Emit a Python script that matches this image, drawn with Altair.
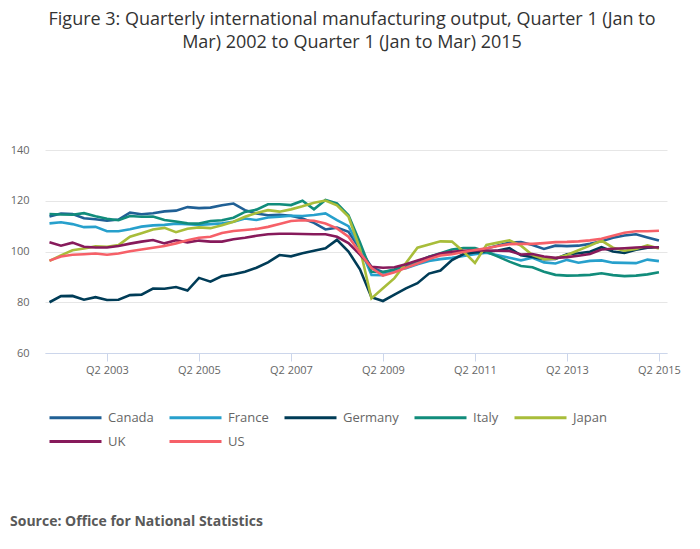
import altair as alt
import pandas as pd

countries = ["Canada", "France", "Germany", "Italy", "Japan", "UK", "US"]
colors = ["#206095", "#27a0cc", "#003c57", "#118c7b", "#a8bd3a", "#871a5b", "#f66068"]

# Quarter 1 2002 ... Quarter 2 2015 (54 quarters)
quarters = [f"Q{q} {y}" for y in range(2002, 2016) for q in range(1, 5)][:54]
tick_quarters = [5, 13, 21, 29, 37, 45, 53]  # Q2 2003 ... Q2 2015
y_ticks = [60, 80, 100, 120, 140]

canada = [113.8, 115.0, 114.8, 113.1, 112.7, 112.1, 112.6, 115.3, 114.7, 115.1,
          115.8, 116.1, 117.5, 117.1, 117.3, 118.2, 118.9, 116.3, 115.0, 114.3,
          114.5, 114.1, 113.0, 111.3, 108.7, 109.4, 107.8, 101.0, 93.8, 91.8,
          92.7, 94.0, 95.2, 97.8, 98.9, 99.3, 100.0, 100.4, 101.2, 102.4,
          103.5, 103.7, 102.6, 101.0, 102.3, 102.1, 102.3, 103.0, 104.0, 105.4,
          106.3, 106.8, 105.5, 104.3]
france = [111.1, 111.5, 110.8, 109.6, 109.7, 108.0, 108.0, 108.8, 109.8, 110.3,
          110.5, 111.0, 110.8, 110.5, 110.8, 111.1, 111.7, 113.0, 112.4, 113.4,
          113.7, 114.1, 114.0, 114.4, 115.0, 112.4, 110.0, 101.5, 90.8, 90.7,
          92.7, 93.4, 95.0, 96.3, 97.0, 97.5, 98.2, 98.9, 99.5, 98.5,
          97.5, 96.5, 97.5, 95.7, 95.3, 96.7, 95.6, 96.3, 96.5, 95.6,
          95.5, 95.4, 96.8, 96.2]
germany = [80.0, 82.4, 82.5, 81.0, 82.0, 80.9, 81.0, 82.8, 83.0, 85.4,
           85.3, 86.0, 84.6, 89.6, 88.1, 90.3, 91.0, 92.0, 93.6, 95.7,
           98.6, 98.1, 99.3, 100.3, 101.3, 104.6, 100.0, 93.0, 82.0, 80.5,
           83.0, 85.5, 87.5, 91.3, 92.5, 96.6, 99.0, 99.6, 99.9, 100.4,
           101.3, 98.5, 97.8, 97.0, 97.1, 98.9, 99.3, 99.9, 101.7, 100.0,
           99.4, 100.7, 101.5, 101.7]
italy = [114.8, 114.6, 114.5, 115.1, 113.9, 112.9, 112.3, 114.0, 113.7, 113.8,
         112.4, 111.8, 111.1, 111.0, 112.0, 112.3, 113.3, 115.6, 116.5, 118.6,
         118.6, 118.3, 120.0, 116.6, 120.3, 119.0, 114.3, 103.5, 92.0, 91.9,
         92.9, 94.7, 96.1, 97.9, 99.3, 100.8, 101.4, 101.4, 99.9, 98.0,
         96.0, 94.3, 93.8, 92.0, 90.8, 90.5, 90.6, 90.8, 91.4, 90.7,
         90.3, 90.5, 91.0, 91.8]
japan = [96.3, 98.5, 100.5, 101.2, 102.0, 101.9, 102.5, 105.8, 107.2, 108.7,
         109.3, 107.6, 109.0, 109.5, 109.2, 110.3, 111.7, 113.7, 115.2, 116.3,
         115.7, 116.6, 117.8, 119.2, 120.1, 118.2, 113.8, 101.0, 81.5, 85.5,
         89.5, 95.5, 101.5, 102.8, 104.0, 103.9, 100.0, 95.5, 102.6, 103.5,
         104.4, 102.3, 98.6, 97.0, 97.3, 98.6, 100.5, 102.3, 104.3, 101.5,
         100.3, 101.0, 102.4, 101.2]
uk = [103.6, 102.3, 103.5, 101.9, 101.6, 101.6, 102.2, 103.1, 103.9, 104.5,
      103.2, 104.4, 103.6, 104.3, 103.9, 103.9, 104.8, 105.4, 106.2, 106.8,
      107.0, 107.0, 106.9, 106.8, 106.8, 105.8, 103.3, 98.8, 94.0, 93.6,
      93.8, 95.0, 96.5, 97.8, 99.2, 99.9, 100.3, 100.5, 100.4, 100.3,
      100.2, 98.8, 99.0, 98.0, 97.5, 97.8, 98.3, 99.0, 100.8, 101.1,
      101.3, 101.6, 101.8, 101.6]
us = [96.4, 98.0, 98.7, 98.9, 99.2, 98.7, 99.2, 100.1, 100.8, 101.5,
      102.2, 103.2, 104.4, 105.4, 105.8, 107.3, 108.1, 108.5, 108.9, 109.7,
      110.8, 112.0, 112.3, 112.1, 111.0, 109.1, 105.8, 99.5, 93.5, 90.5,
      91.8, 93.6, 95.3, 97.0, 98.4, 98.9, 99.8, 100.6, 101.3, 102.2,
      102.9, 103.0, 103.0, 103.3, 103.7, 103.8, 104.0, 104.4, 105.0, 106.2,
      107.4, 108.0, 108.0, 108.2]

series = dict(zip(countries, [canada, france, germany, italy, japan, uk, us]))

rows = []
for name, vals in series.items():
    for i, (q, v) in enumerate(zip(quarters, vals)):
        rows.append({"country": name, "idx": i, "quarter": q, "value": v})
df = pd.DataFrame(rows)

title_lines = ["Figure 3: Quarterly international manufacturing output, Quarter 1 (Jan to",
               "Mar) 2002 to Quarter 1 (Jan to Mar) 2015"]
source_text = "Source: Office for National Statistics"

FONT = "Open Sans"

lines = alt.Chart(df).mark_line(strokeWidth=2.6).encode(
    x=alt.X("idx:Q",
            scale=alt.Scale(domain=[-0.39, 53.7], nice=False, zero=False),
            axis=alt.Axis(values=tick_quarters,
                          labelExpr="'Q2 ' + (2002 + floor(datum.value / 4))",
                          title=None, grid=False, domainColor="#ccd6eb",
                          tickColor="#ccd6eb", tickSize=8, labelColor="#666666",
                          labelFontSize=11, labelPadding=3, labelFont=FONT)),
    y=alt.Y("value:Q",
            scale=alt.Scale(domain=[60, 140], nice=False, zero=False),
            axis=alt.Axis(values=y_ticks, title=None, domain=False, ticks=False,
                          gridColor="#e6e6e6", labelColor="#666666",
                          labelFontSize=11, labelPadding=16, labelFont=FONT)),
    color=alt.Color("country:N",
                    scale=alt.Scale(domain=countries, range=colors),
                    legend=alt.Legend(title=None, orient="none", legendX=3, legendY=256,
                                      columns=5, direction="horizontal",
                                      symbolType="M-1,0H4.2", symbolSize=400,
                                      symbolStrokeWidth=3, labelFontSize=13,
                                      labelColor="#666666", labelFont=FONT,
                                      labelOffset=37, columnPadding=9, rowPadding=5)),
    order="idx:Q",
)

source = alt.Chart(pd.DataFrame({"t": [source_text]})).mark_text(
    align="left", baseline="middle", fontSize=14, fontWeight="bold",
    font=FONT, color="#595959"
).encode(text="t:N", x=alt.value(-35), y=alt.value(372))

chart = alt.layer(lines, source).properties(
    width=622, height=203,
    padding={"left": 2, "top": 3, "right": 5, "bottom": 5},
    title=alt.TitleParams(text=title_lines, fontSize=18, font=FONT, fontWeight="normal",
                          color="#333333", lineHeight=23, anchor="middle",
                          offset=92, dx=-4),
).configure_view(stroke=None)

chart.save("out.html", embed_options={"renderer": "svg", "actions": False})
